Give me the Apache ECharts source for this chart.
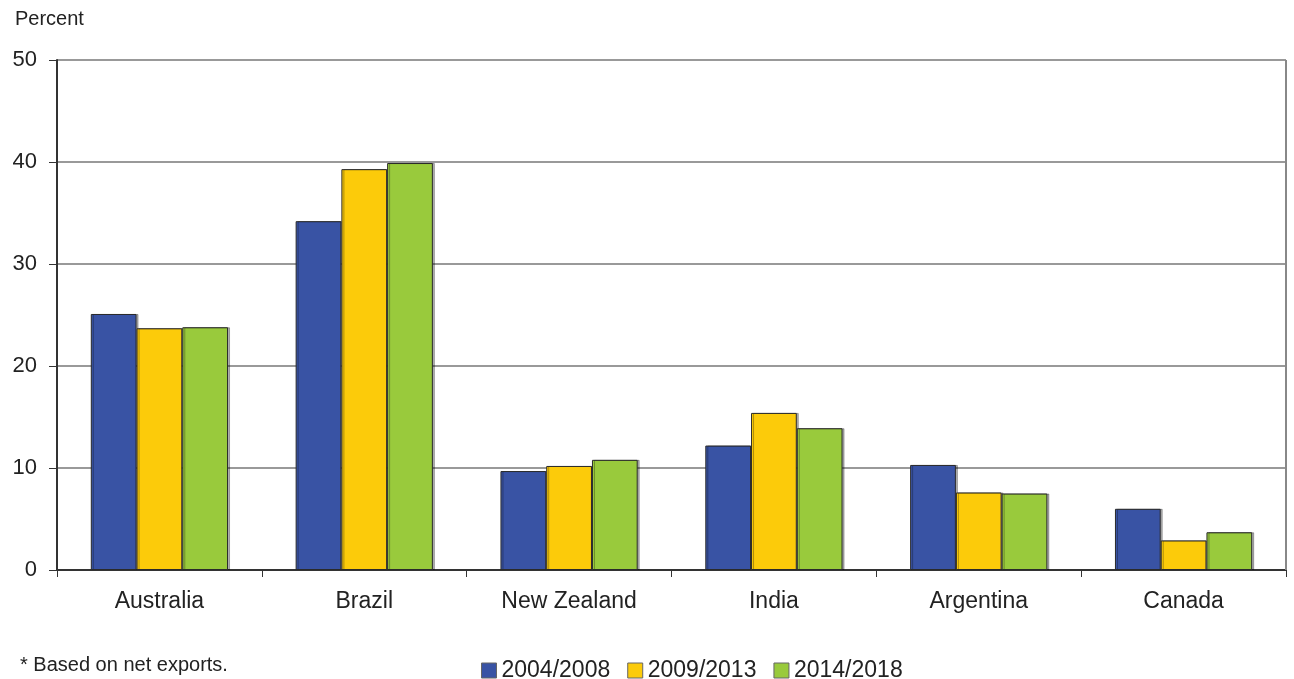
<!DOCTYPE html>
<html>
<head>
<meta charset="utf-8">
<script src="https://cdn.jsdelivr.net/npm/echarts@6/dist/echarts.min.js"></script>
<style>
  html, body { margin: 0; padding: 0; background: #fff; }
  #main { width: 1294px; height: 679px; }
</style>
</head>
<body>
<div id="main"></div>
<script>
// data
var countries = ['Australia', 'Brazil', 'New Zealand', 'India', 'Argentina', 'Canada'];
var periods = ['2004/2008', '2009/2013', '2014/2018'];
var v2004 = [25.1, 34.2, 9.7, 12.2, 10.3, 6.0];
var v2009 = [23.7, 39.3, 10.2, 15.4, 7.6, 2.9];
var v2014 = [23.8, 39.9, 10.8, 13.9, 7.5, 3.7];
var colors = ['#3953a4', '#fccb0a', '#99ca3c'];

var font = 'Liberation Sans, Arial, sans-serif';
var chart = echarts.init(document.getElementById('main'));

function bar(name, data, color) {
    return {
        name: name,
        type: 'bar',
        data: data,
        barGap: '0%',
        barCategoryGap: '33%',
        itemStyle: {
            color: color,
            borderColor: '#2a2a2a',
            borderWidth: 1,
            shadowColor: 'rgba(0,0,0,0.3)',
            shadowOffsetX: 2,
            shadowOffsetY: 0,
            shadowBlur: 0
        },
        emphasis: { disabled: true }
    };
}

var option = {
    backgroundColor: '#ffffff',
    animation: false,
    textStyle: { fontFamily: font },
    grid: { left: 57, right: 8, top: 60, bottom: 109, containLabel: false },
    legend: {
        top: 654,
        left: 476,
        itemWidth: 15,
        itemHeight: 15,
        itemGap: 17,
        icon: 'rect',
        textStyle: { fontSize: 23, color: '#222' },
        data: periods.map(function (p) {
            return { name: p, itemStyle: { borderColor: '#666', borderWidth: 1 } };
        })
    },
    graphic: [
        { type: 'text', left: 15, top: 9, style: { text: 'Percent', fontSize: 20, fill: '#222', fontFamily: font } },
        { type: 'text', left: 20, top: 655, style: { text: '* Based on net exports.', fontSize: 20, fill: '#222', fontFamily: font } },
        { type: 'line', shape: { x1: 1286, y1: 60, x2: 1286, y2: 570 }, style: { stroke: '#888', lineWidth: 2 }, z: 10 }
    ],
    xAxis: {
        type: 'category',
        data: countries,
        axisLine: { lineStyle: { color: '#333', width: 2 } },
        axisTick: { show: true, length: 7, lineStyle: { color: '#333' } },
        axisLabel: { fontSize: 23, color: '#222', margin: 20 }
    },
    yAxis: {
        type: 'value',
        min: 0,
        max: 50,
        interval: 10,
        axisLine: { show: true, lineStyle: { color: '#333', width: 2 } },
        axisTick: { show: true, length: 8, lineStyle: { color: '#333' } },
        axisLabel: { fontSize: 22, color: '#222', margin: 20 },
        splitLine: { lineStyle: { color: '#999', width: 2 } }
    },
    series: [
        bar(periods[0], v2004, colors[0]),
        bar(periods[1], v2009, colors[1]),
        bar(periods[2], v2014, colors[2])
    ]
};

chart.setOption(option);
</script>
</body>
</html>
